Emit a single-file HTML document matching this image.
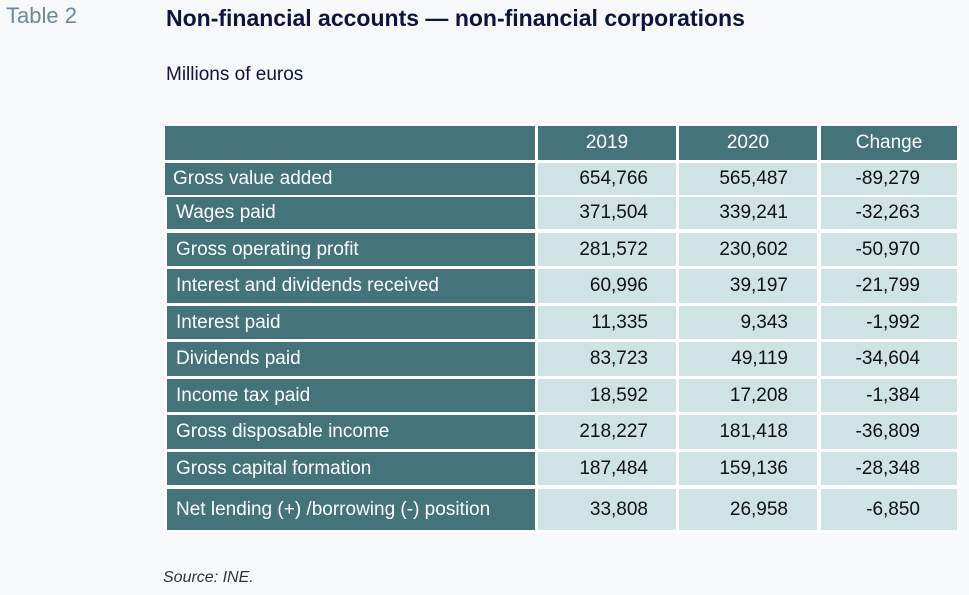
<!DOCTYPE html>
<html><head><meta charset="utf-8"><style>
body{margin:0;width:969px;height:595px;background:#f7f8fa;font-family:"Liberation Sans",Arial,sans-serif;position:relative;overflow:hidden}
.a{position:absolute}
.tw{position:absolute;left:164px;top:123px;width:796px;height:410px;background:#fff}
.c{position:absolute;box-sizing:border-box;font-size:19px;display:flex;align-items:center}
.d{background:#44747a;color:#fff}
.l{background:#cfe2e4;color:#111;justify-content:flex-end}
.h{justify-content:center}
</style></head><body>
<div class="a" style="left:6px;top:3px;font-size:22px;color:#6e88a0">Table 2</div>
<div class="a" style="left:166px;top:5px;font-size:23px;font-weight:bold;color:#0d1440">Non-financial accounts — non-financial corporations</div>
<div class="a" style="left:166px;top:64px;font-size:19px;color:#0d1440">Millions of euros</div>
<div class="tw"></div>
<div id="t"></div>
<div class="a" style="left:163px;top:569px;font-size:16px;font-style:italic;color:#333">Source: INE.</div>
<script>
const labels=["Gross value added","Wages paid","Gross operating profit","Interest and dividends received","Interest paid","Dividends paid","Income tax paid","Gross disposable income","Gross capital formation","Net lending (+) /borrowing (-) position"];
const v2019=["654,766","371,504","281,572","60,996","11,335","83,723","18,592","218,227","187,484","33,808"];
const v2020=["565,487","339,241","230,602","39,197","9,343","49,119","17,208","181,418","159,136","26,958"];
const vChange=["-89,279","-32,263","-50,970","-21,799","-1,992","-34,604","-1,384","-36,809","-28,348","-6,850"];
const headers=["2019","2020","Change"];
const tops=[163,197,233,269,306,342,379,415,452,489],bots=[195,229,266,303,339,376,412,449,485,530];
const cx=[[538,676],[679,817],[821,957]],pr=[28,29,37];
const t=document.getElementById('t');
function cell(cls,x,y,w,h,txt,name){const e=document.createElement('div');e.className='c '+cls;e.style.left=x+'px';e.style.top=y+'px';e.style.width=w+'px';e.style.height=h+'px';e.textContent=txt;


t.appendChild(e);return e;}
cell('d',165,126,370,34,'','header-blank');
headers.forEach((h,i)=>cell('d h',cx[i][0],126,cx[i][1]-cx[i][0],34,h,'header-'+h.toLowerCase()));
labels.forEach((lab,r)=>{const y=tops[r],h=bots[r]-y;
const e=cell('d',r==0?165:167,y,r==0?370:368,h,lab,'row-label');e.style.paddingLeft=(r==0?8:9)+'px';
[v2019,v2020,vChange].forEach((arr,i)=>{const c=cell('l',cx[i][0],y,cx[i][1]-cx[i][0],h,arr[r],'cell-'+headers[i].toLowerCase());c.style.paddingRight=pr[i]+'px';});});
</script>
</body></html>
